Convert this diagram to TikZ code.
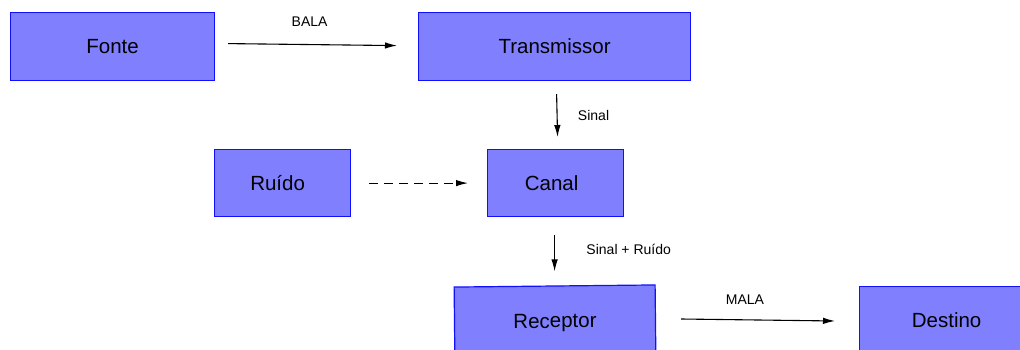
\documentclass[tikz,border=0pt]{standalone}
\usepackage{fontspec}
\setmainfont{Liberation Sans}
\usetikzlibrary{arrows.meta}
\definecolor{boxfill}{HTML}{8080FF}
\definecolor{boxline}{HTML}{1010FF}
\begin{document}
\begin{tikzpicture}[x=1pt,y=-1pt,
  box/.style={draw=boxline,fill=boxfill,line width=1.2pt,inner sep=0pt,anchor=north west,font=\fontsize{20.5}{24}\selectfont},
  arr/.style={line width=1.1pt,-{Latex[length=12pt,width=6.5pt]}},
  lbl/.style={font=\fontsize{14}{16}\selectfont}]
\useasboundingbox (0,0) rectangle (1020,350);
\clip (0,0) rectangle (1020,350);
\node[box,minimum width=204pt,minimum height=68pt] (fonte) at (10,12) {Fonte};
\node[box,minimum width=272pt,minimum height=68pt] (trans) at (418,12) {Transmissor};
\node[box,minimum width=136pt,minimum height=67pt] (ruido) at (214,149) {\hspace*{-10pt}Ruído};
\node[box,minimum width=136pt,minimum height=67pt] (canal) at (487,149) {\hspace*{-8pt}Canal};
\node[box,minimum width=201pt,minimum height=74pt,anchor=center,rotate=0.6] (recep) at (555,323) {Receptor};
\node[box,minimum width=174pt,minimum height=68pt] (dest) at (859,286) {Destino};
\draw[arr] ([xshift=13pt,yshift=3pt]fonte.east) -- ([xshift=-21pt,yshift=1pt]trans.west) node[lbl,midway,above=14pt,xshift=-3pt] {BALA};
\draw[arr] ([xshift=2pt,yshift=-13pt]trans.south) -- ([xshift=2pt,yshift=12pt]canal.north) node[lbl,midway,right=17pt] {Sinal};
\draw[arr,dashed,dash pattern=on 9pt off 6pt] ([xshift=18pt]ruido.east) -- ([xshift=-19pt]canal.west);
\draw[arr] ([xshift=-1pt,yshift=-18pt]canal.south) -- ([xshift=-1pt,yshift=14pt]canal.south |- recep.north) node[lbl,midway,right=28pt,yshift=4pt] {Sinal + Ruído};
\draw[arr] (681,319) coordinate (m1) -- (835,321) coordinate (m2) node[lbl,midway,above=12pt,xshift=-13pt] {MALA};
\end{tikzpicture}
\end{document}
